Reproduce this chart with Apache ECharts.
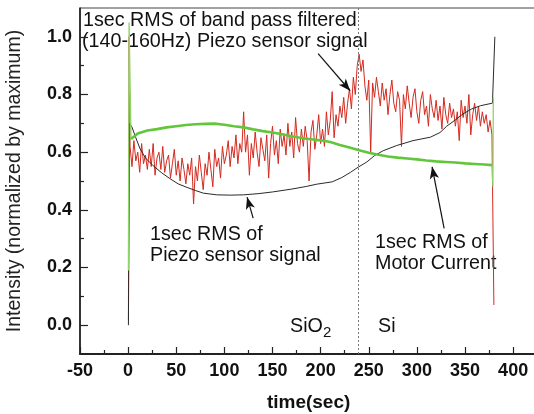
<!DOCTYPE html>
<html><head><meta charset="utf-8">
<script src="https://cdn.jsdelivr.net/npm/echarts@6/dist/echarts.min.js"></script>
<style>html,body{margin:0;padding:0;background:#fff}#c{width:534px;height:414px}</style>
</head><body><div id="c"></div>
<script>
// ---- tick labels ----
const xTickLabels = [-50, 0, 50, 100, 150, 200, 250, 300, 350, 400];
const xMinorTicks = [-25, 25, 75, 125, 175, 225, 275, 325, 375];
const yTickLabels = [0.0, 0.2, 0.4, 0.6, 0.8, 1.0];
const yMinorTicks = [0.1, 0.3, 0.5, 0.7, 0.9];

// ---- band-pass filtered piezo RMS (red), sampled every 2 s from t=2 ----
const redLeadTime = [0.3, 1];
const redLeadValue = [0.02, 1.0];
const redStartTime = 2, redStepTime = 2;
const redValues = [
 0.62,0.55,0.64,0.57,0.60,0.53,0.63,0.56,0.59,0.54,
 0.61,0.55,0.63,0.52,0.58,0.60,0.54,0.62,0.53,0.57,
 0.59,0.51,0.56,0.61,0.52,0.57,0.50,0.58,0.54,0.49,
 0.56,0.52,0.58,0.42,0.55,0.50,0.59,0.53,0.47,0.56,
 0.52,0.60,0.54,0.48,0.61,0.55,0.58,0.51,0.62,0.56,
 0.59,0.64,0.55,0.62,0.58,0.66,0.56,0.63,0.60,0.74,
 0.60,0.66,0.52,0.63,0.58,0.67,0.60,0.55,0.65,0.61,
 0.57,0.66,0.51,0.63,0.69,0.59,0.64,0.56,0.68,0.62,
 0.66,0.59,0.70,0.62,0.67,0.58,0.72,0.63,0.60,0.68,
 0.62,0.69,0.64,0.50,0.67,0.71,0.61,0.66,0.73,0.63,
 0.68,0.62,0.74,0.66,0.71,0.81,0.65,0.73,0.69,0.76,
 0.72,0.79,0.70,0.77,0.82,0.75,0.86,0.80,0.90,0.94,
 0.88,0.92,0.83,0.78,0.85,0.60,0.84,0.79,0.86,0.81,
 0.76,0.84,0.78,0.82,0.73,0.80,0.85,0.77,0.74,0.81,
 0.78,0.62,0.80,0.75,0.83,0.77,0.72,0.79,0.82,0.74,
 0.70,0.78,0.81,0.73,0.76,0.69,0.80,0.75,0.72,0.78,
 0.71,0.76,0.68,0.79,0.73,0.70,0.77,0.72,0.75,0.69,
 0.74,0.64,0.78,0.72,0.76,0.70,0.80,0.66,0.73,0.77,
 0.71,0.76,0.69,0.74,0.70,0.73,0.67,0.71,0.66
];
const redTailTime = [380];
const redTailValue = [0.07];

// ---- piezo RMS (black) ----
const blackTime = [0.3,1.5,4,8,12.5,18,26,35,44,52,61,70,78,92,106,120,135,150,170,185,196,212,222,231,239,248,256,265,279,296,314,324,331,340,348,357,366,378.5,381];
const blackValue = [0.0,0.70,0.687,0.65,0.611,0.58,0.553,0.528,0.507,0.49,0.478,0.467,0.458,0.452,0.451,0.452,0.456,0.462,0.472,0.481,0.489,0.497,0.512,0.53,0.548,0.566,0.588,0.605,0.623,0.64,0.652,0.668,0.69,0.712,0.733,0.75,0.761,0.77,1.0];

// ---- motor current RMS (green) ----
const greenLeadTime = [0.3, 1, 3];
const greenLeadValue = [0.19, 1.05, 0.646];
const greenTime = [3,5,10,20,30,40,50,60,70,80,90,100,110,120,130,140,150,160,170,180,190,200,210,220,230,240,250,260,270,280,290,300,310,320,330,340,350,360,370,378];
const greenValue = [0.646,0.65,0.665,0.675,0.68,0.686,0.69,0.694,0.697,0.698,0.699,0.695,0.69,0.686,0.679,0.673,0.668,0.662,0.655,0.649,0.645,0.641,0.635,0.625,0.616,0.607,0.598,0.591,0.585,0.581,0.578,0.575,0.571,0.568,0.566,0.564,0.561,0.559,0.557,0.555];
const greenTailTime = [378, 379, 379.4];
const greenTailValue = [0.555, 0.48, 0.79];

// ---- boundary SiO2 / Si ----
const boundaryTime = 238.6;

const zip = (t, v) => t.map((x, i) => [x, v[i]]);
const redData = zip(redLeadTime, redLeadValue)
  .concat(redValues.map((v, i) => [redStartTime + i * redStepTime, v]))
  .concat(zip(redTailTime, redTailValue));
const greenSpikeData = zip(greenLeadTime, greenLeadValue).concat([[NaN, NaN]]).concat(zip(greenTailTime, greenTailValue));

const FONT = '"Liberation Sans", Arial, Helvetica, sans-serif';
const chart = echarts.init(document.getElementById('c'), null, {renderer: 'canvas'});

function arrow(t1, v1, t2, v2) {
  return [{coord: [t1, v1], symbol: 'none'}, {coord: [t2, v2], symbol: 'arrow', symbolSize: [7, 12]}];
}

const option = {
  animation: false,
  backgroundColor: '#fff',
  grid: {left: 80, right: -3.2, top: 8, bottom: 60, show: true, borderColor: '#444', borderWidth: 1,
    containLabel: false, outerBoundsMode: 'none'},
  xAxis: [{
    type: 'value', min: -50, max: 425,
    name: 'time(sec)', nameLocation: 'middle', nameGap: 39,
    nameTextStyle: {fontFamily: FONT, fontSize: 19, fontWeight: 'bold', color: '#111'},
    axisLine: {show: true, onZero: false, lineStyle: {color: '#222', width: 2}},
    axisTick: {show: true, inside: true, length: 7, customValues: xTickLabels, lineStyle: {color: '#222', width: 1.2}},
    axisLabel: {show: true, customValues: xTickLabels, margin: 8, fontFamily: FONT, fontSize: 18, fontWeight: 'bold', color: '#111'},
    splitLine: {show: false}
  }, {
    type: 'value', min: -50, max: 425, position: 'bottom',
    axisLine: {show: false, onZero: false},
    axisTick: {show: true, inside: true, length: 4, customValues: xMinorTicks, lineStyle: {color: '#222', width: 1.2}},
    axisLabel: {show: false}, splitLine: {show: false}
  }],
  yAxis: [{
    type: 'value', min: -0.1, max: 1.1,
    name: 'Intensity (normalized by maximum)', nameLocation: 'middle', nameGap: 55,
    nameTextStyle: {fontFamily: FONT, fontSize: 19.5, color: '#222'},
    axisLine: {show: true, onZero: false, lineStyle: {color: '#222', width: 1.7}},
    axisTick: {show: true, inside: true, length: 8, customValues: yTickLabels, lineStyle: {color: '#222', width: 1.2}},
    axisLabel: {show: true, customValues: yTickLabels, margin: 8, fontFamily: FONT, fontSize: 18, fontWeight: 'bold', color: '#111',
      formatter: v => v.toFixed(1)},
    splitLine: {show: false}
  }, {
    type: 'value', min: -0.1, max: 1.1, position: 'left',
    axisLine: {show: false, onZero: false},
    axisTick: {show: true, inside: true, length: 4, customValues: yMinorTicks, lineStyle: {color: '#222', width: 1.2}},
    axisLabel: {show: false}, splitLine: {show: false}
  }],
  series: [{
    name: 'band pass RMS', type: 'line', showSymbol: false, symbol: 'none',
    data: redData, lineStyle: {color: '#d42a1f', width: 1}, z: 2
  }, {
    name: 'piezo RMS', type: 'line', showSymbol: false, symbol: 'none',
    data: zip(blackTime, blackValue), lineStyle: {color: '#2a2a2a', width: 1}, z: 3,
    markLine: {
      silent: true, symbol: ['none', 'none'], label: {show: false}, animation: false,
      lineStyle: {color: '#111', width: 1.2, type: 'solid'},
      data: [
        [{coord: [boundaryTime, -0.1], symbol: 'none', lineStyle: {color: '#777', type: [2, 2], width: 1}},
         {coord: [boundaryTime, 1.1], symbol: 'none'}],
        arrow(197.4, 0.942, 230.6, 0.813),
        arrow(129.9, 0.371, 123.6, 0.444),
        arrow(328.3, 0.336, 315.8, 0.549)
      ]
    }
  }, {
    name: 'motor current spikes', type: 'line', showSymbol: false, symbol: 'none', connectNulls: false,
    data: greenSpikeData, lineStyle: {color: '#8fd46a', width: 1.3}, z: 4
  }, {
    name: 'motor current RMS', type: 'line', showSymbol: false, symbol: 'none',
    data: zip(greenTime, greenValue), lineStyle: {color: '#62c63a', width: 2.6}, z: 5
  }],
  graphic: [
    {type: 'text', style: {text: '1sec RMS of band pass filtered', x: 83, y: 21, fontFamily: FONT, fontSize: 19.7, fill: '#111', verticalAlign: 'middle'}},
    {type: 'text', style: {text: '(140-160Hz) Piezo sensor signal', x: 82, y: 42, fontFamily: FONT, fontSize: 19.7, fill: '#111', verticalAlign: 'middle'}},
    {type: 'text', style: {text: '1sec RMS of', x: 150, y: 235, fontFamily: FONT, fontSize: 19.7, fill: '#111', verticalAlign: 'middle'}},
    {type: 'text', style: {text: 'Piezo sensor signal', x: 150, y: 256, fontFamily: FONT, fontSize: 19.7, fill: '#111', verticalAlign: 'middle'}},
    {type: 'text', style: {text: '1sec RMS of', x: 375, y: 243, fontFamily: FONT, fontSize: 19.7, fill: '#111', verticalAlign: 'middle'}},
    {type: 'text', style: {text: 'Motor Current', x: 375, y: 264, fontFamily: FONT, fontSize: 19.7, fill: '#111', verticalAlign: 'middle'}},
    {type: 'text', style: {text: 'SiO', x: 290, y: 327, fontFamily: FONT, fontSize: 19.7, fill: '#111', verticalAlign: 'middle'}},
    {type: 'text', style: {text: '2', x: 323, y: 333, fontFamily: FONT, fontSize: 15, fill: '#111', verticalAlign: 'middle'}},
    {type: 'text', style: {text: 'Si', x: 378, y: 327, fontFamily: FONT, fontSize: 19.7, fill: '#111', verticalAlign: 'middle'}}
  ]
};
chart.setOption(option);
</script>
</body></html>
